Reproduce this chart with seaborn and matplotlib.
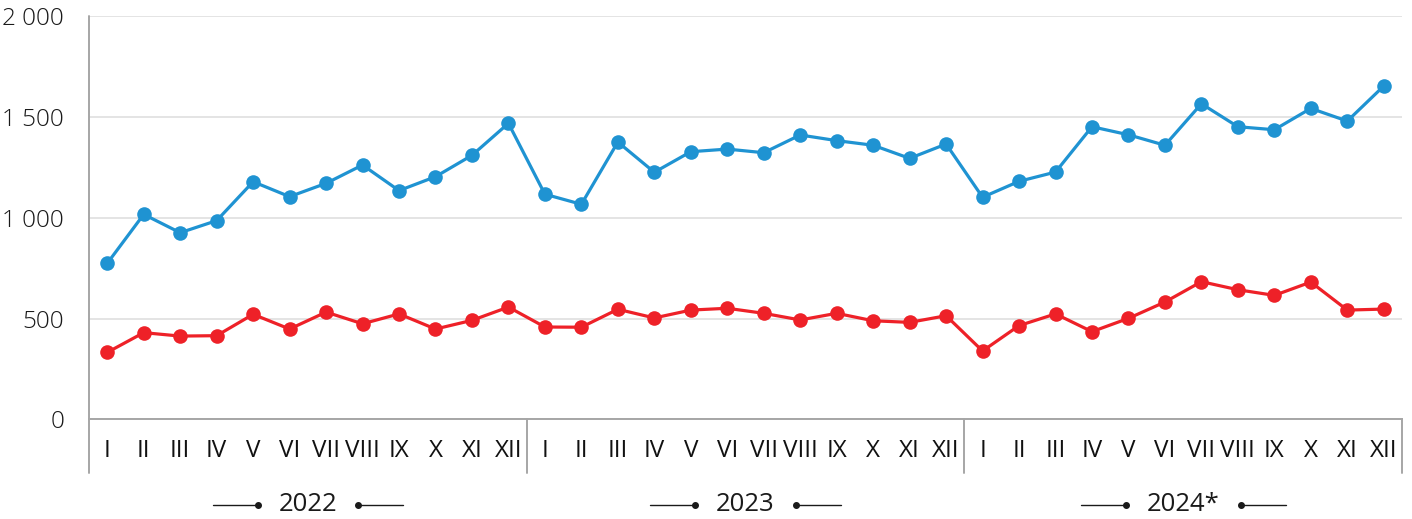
import numpy as np
import pandas as pd
import matplotlib.pyplot as plt
import matplotlib.transforms as mtransforms
from matplotlib.lines import Line2D
import seaborn as sns

months = ["I", "II", "III", "IV", "V", "VI", "VII", "VIII", "IX", "X", "XI", "XII"]
years = ["2022", "2023", "2024*"]
blue_vals = [774, 1017, 926, 986, 1179, 1105, 1171, 1262, 1135, 1204, 1310, 1469,
             1117, 1067, 1376, 1226, 1328, 1341, 1323, 1411, 1383, 1360, 1295, 1366,
             1102, 1181, 1227, 1452, 1412, 1360, 1566, 1452, 1437, 1543, 1480, 1654]
red_vals = [332, 430, 413, 415, 521, 448, 532, 474, 523, 448, 491, 557,
            458, 457, 546, 503, 542, 551, 526, 493, 526, 489, 481, 514,
            339, 465, 523, 435, 501, 582, 683, 643, 615, 681, 542, 547]
y_ticks = [0, 500, 1000, 1500, 2000]
y_tick_labels = ["0", "500", "1 000", "1 500", "2 000"]

sns.set_theme(style="white")
plt.rcParams['font.family'] = ['Open Sans', 'DejaVu Sans']

n = len(blue_vals)
pos = np.arange(n)
df = pd.DataFrame({
    "pos": np.concatenate([pos, pos]),
    "value": blue_vals + red_vals,
    "series": ["blue"] * n + ["red"] * n,
})

W, H = 1412, 519
fig = plt.figure(figsize=(W / 100, H / 100), dpi=100)
ax = fig.add_axes([89 / W, 1 - 419.3 / H, (1402 - 89) / W, (419.3 - 16.3) / H])

sns.lineplot(data=df, x="pos", y="value", hue="series",
             palette={"blue": "#1f93d2", "red": "#ee2128"},
             marker="o", markersize=10.5, markeredgewidth=0, linewidth=2.3,
             legend=False, ax=ax)

ax.set_xlim(-0.5, n - 0.5)
ax.set_ylim(0, 2000)
ax.set_yticks(y_ticks)
ax.set_yticklabels(y_tick_labels, fontweight="light")
ax.set_xticks(pos)
ax.set_xticklabels(months * len(years))
ax.set_xlabel("")
ax.set_ylabel("")
ax.grid(axis="y", color="#e4e4e4", lw=1.4)
ax.set_axisbelow(True)
for s in ["top", "right", "left"]:
    ax.spines[s].set_visible(False)
ax.spines["bottom"].set_color("#a6a6a6")
ax.spines["bottom"].set_linewidth(1.4)
ax.tick_params(axis="y", length=8, color="#a6a6a6", width=1.4, pad=10,
               labelsize=17.5, labelcolor="#1a1a1a")
ax.tick_params(axis="x", length=0, pad=14, labelsize=17.5, labelcolor="#111111")

trans = mtransforms.blended_transform_factory(ax.transData, ax.transAxes)
low = -0.133
ax.plot([-0.5, -0.5], [low, 1], transform=trans, color="#a6a6a6", lw=1.4, clip_on=False)
for k in range(1, len(years) + 1):
    b = 12 * k - 0.5
    ax.plot([b, b], [low, 0], transform=trans, color="#a6a6a6", lw=1.4, clip_on=False)

# year labels with line-dot decorations
renderer = fig.canvas.get_renderer()
for k, yr in enumerate(years):
    c = 12 * k + 5.5
    t = ax.text(c, -0.212, yr, transform=trans, ha="center", va="center",
                fontsize=18.5, color="#1a1a1a")
    bb = t.get_window_extent(renderer)
    cx, cy = trans.transform((c, -0.212))
    hw = bb.width / 2
    for sgn in (-1, 1):
        x_in = cx + sgn * (hw + 21)
        x_out = cx + sgn * (hw + 66)
        fx = [x_in / W, x_out / W]
        fy = [cy / H, cy / H]
        fig.add_artist(Line2D(fx, fy, transform=fig.transFigure, color="#1a1a1a", lw=1))
        fig.add_artist(Line2D([fx[0]], [fy[0]], transform=fig.transFigure, color="#1a1a1a",
                              marker="o", markersize=4, lw=0))

fig.savefig("out.png", dpi=100)
